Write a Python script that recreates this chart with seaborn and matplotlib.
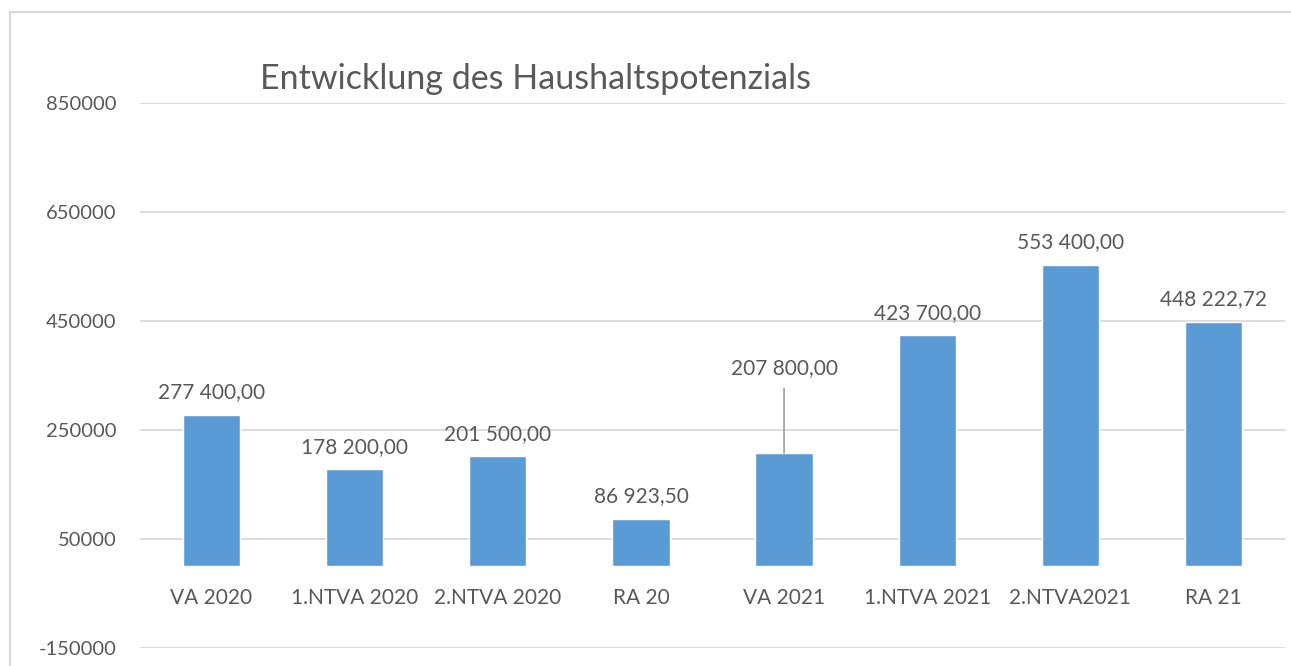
import matplotlib
matplotlib.use("Agg")
import matplotlib.pyplot as plt
import seaborn as sns
import pandas as pd
from matplotlib.patches import Rectangle

categories = ["VA 2020", "1.NTVA 2020", "2.NTVA 2020", "RA 20",
              "VA 2021", "1.NTVA 2021", "2.NTVA2021", "RA 21"]
values = [277400.00, 178200.00, 201500.00, 86923.50,
          207800.00, 423700.00, 553400.00, 448222.72]
y_ticks = [-150000, 50000, 250000, 450000, 650000, 850000]
title = "Entwicklung des Haushaltspotenzials"


def de_format(v):
    s = f"{v:,.2f}"
    return s.replace(",", " ").replace(".", ",")


sns.set_style("white")
plt.rcParams['font.family'] = ['Lato', 'DejaVu Sans']
text_color = "#595959"
grid_color = "#D9D9D9"
bar_color = "#5B9BD5"

df = pd.DataFrame({"Kategorie": categories, "Wert": values})

fig = plt.figure(figsize=(12.91, 6.66), dpi=100)
ax = fig.add_axes([140 / 1291, 18 / 666, 1145 / 1291, 545 / 666])

sns.barplot(data=df, x="Kategorie", y="Wert", color=bar_color,
            width=0.4, saturation=1, ax=ax)

ax.set_ylim(-150000, 850000)
ax.set_xlim(-0.5, len(categories) - 0.5)
ax.set_yticks(y_ticks)
ax.set_yticklabels([str(t) for t in y_ticks], fontsize=14.5, color=text_color)
ax.yaxis.grid(True, color=grid_color, linewidth=1.3)
ax.set_axisbelow(True)
ax.tick_params(axis="y", length=0, pad=17)
ax.spines["bottom"].set_position(("data", 0))
ax.tick_params(axis="x", length=0, pad=16, labelsize=15, labelcolor=text_color)
for s in ax.spines.values():
    s.set_visible(False)
ax.set_xlabel("")
ax.set_ylabel("")

# data labels
for i, v in enumerate(values):
    if categories[i] == "VA 2021":
        ax.annotate(de_format(v), xy=(i, v), xytext=(i, v + 137000),
                    ha="center", va="bottom", fontsize=15, color=text_color,
                    arrowprops=dict(arrowstyle="-", color="#A6A6A6", lw=1.3,
                                    shrinkA=5, shrinkB=0))
    else:
        ax.annotate(de_format(v), xy=(i, v), xytext=(0, 9),
                    textcoords="offset points", ha="center", va="bottom",
                    fontsize=15, color=text_color)

fig.text(535 / 1291, 1 - 79 / 666, title, ha="center", va="center",
         fontsize=24.5, color=text_color)

fig.patches.append(Rectangle((10 / 1291, -0.1), 1.5, 1.1 - 12 / 666,
                             transform=fig.transFigure, fill=False,
                             edgecolor=grid_color, linewidth=1.5))

fig.savefig("out.png", dpi=100)
